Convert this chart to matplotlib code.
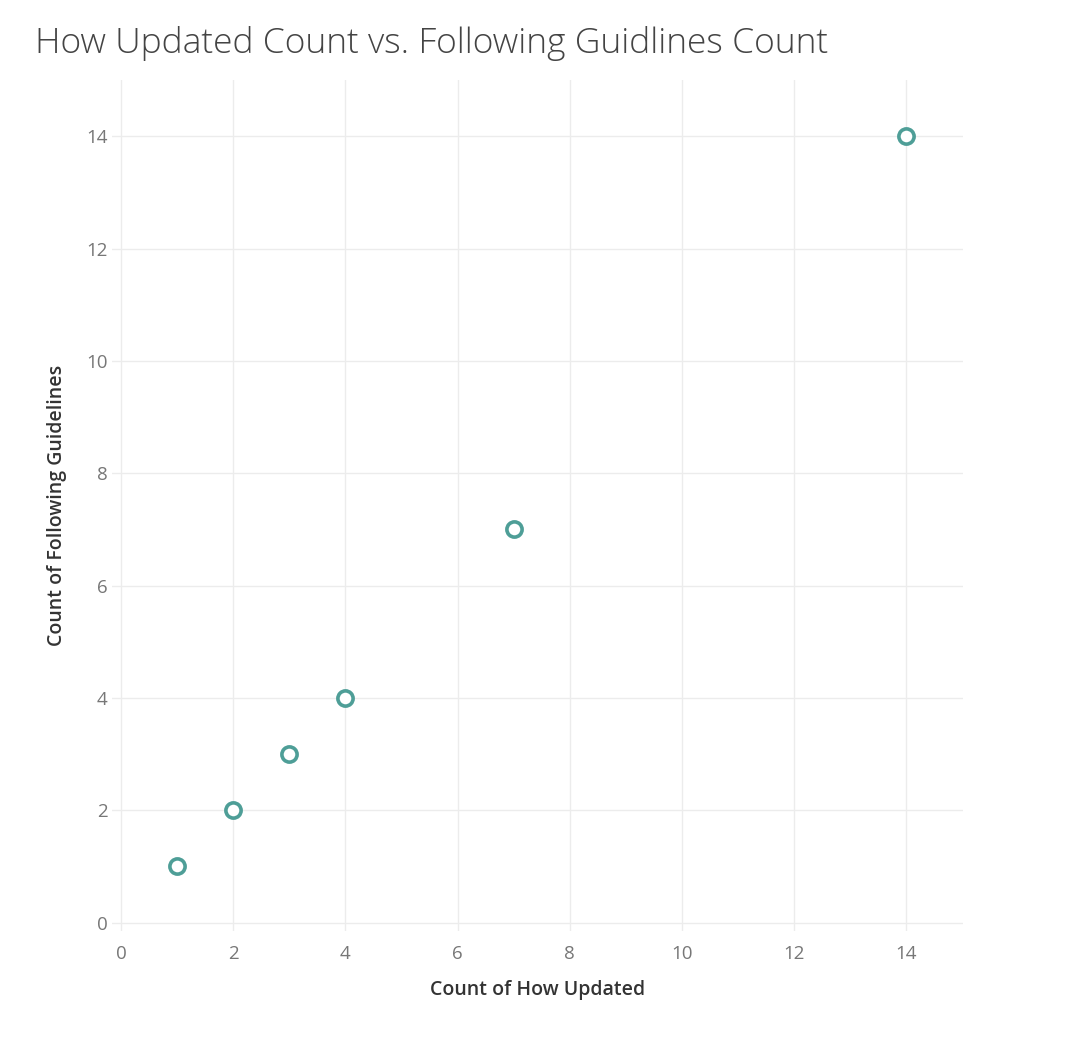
import matplotlib.pyplot as plt

# data
how_updated = [1, 2, 3, 4, 7, 14]
following_guidelines = [1, 2, 3, 4, 7, 14]
ticks = [0, 2, 4, 6, 8, 10, 12, 14]

plt.rcParams['font.family'] = ['Open Sans', 'DejaVu Sans']

fig = plt.figure(figsize=(10.66, 10.42), dpi=100)
ax = fig.add_axes([0.105, 0.1065, 0.798, 0.8165])

ax.scatter(how_updated, following_guidelines, s=120, facecolors='white',
           edgecolors='#4e9e97', linewidths=2.6, zorder=3)

ax.set_xlim(-0.16, 15)
ax.set_ylim(-0.15, 15)
ax.set_xticks(ticks)
ax.set_yticks(ticks)
ax.grid(True, color='#ececec', linewidth=1)
ax.set_axisbelow(True)
for s in ax.spines.values():
    s.set_visible(False)
ax.tick_params(length=0, labelsize=13.5, labelcolor='#777777')
ax.tick_params(axis='x', pad=10)
ax.tick_params(axis='y', pad=3)

ax.set_xlabel('Count of How Updated', fontsize=14, color='#333333',
              fontweight='semibold', labelpad=12)
ax.set_ylabel('Count of Following Guidelines', fontsize=14, color='#333333',
              fontweight='semibold', labelpad=14)

fig.text(0.033, 0.958, 'How Updated Count vs. Following Guidlines Count',
         fontsize=25.5, color='#444444', fontweight='light', va='center')

fig.savefig('out.png', dpi=100, facecolor='white')
